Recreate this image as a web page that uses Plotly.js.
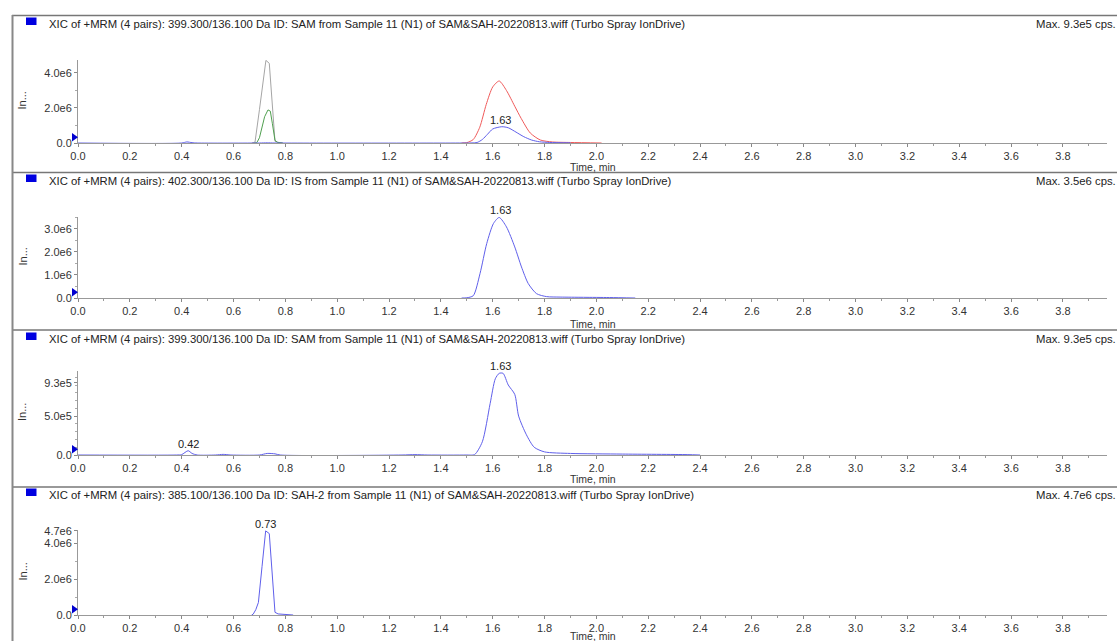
<!DOCTYPE html>
<html>
<head>
<meta charset="utf-8">
<script src="https://cdn.plot.ly/plotly-3.0.1.min.js"></script>
<style>html,body{margin:0;padding:0;background:#fff;}#chart{width:1117px;height:641px;}</style>
</head>
<body>
<div id="chart"></div>
<script>
// ---------- DATA ----------
const headers = [
  "XIC of +MRM (4 pairs): 399.300/136.100 Da ID: SAM from Sample 11 (N1) of SAM&SAH-20220813.wiff (Turbo Spray IonDrive)",
  "XIC of +MRM (4 pairs): 402.300/136.100 Da ID: IS from Sample 11 (N1) of SAM&SAH-20220813.wiff (Turbo Spray IonDrive)",
  "XIC of +MRM (4 pairs): 399.300/136.100 Da ID: SAM from Sample 11 (N1) of SAM&SAH-20220813.wiff (Turbo Spray IonDrive)",
  "XIC of +MRM (4 pairs): 385.100/136.100 Da ID: SAH-2 from Sample 11 (N1) of SAM&SAH-20220813.wiff (Turbo Spray IonDrive)"
];
const maxLabels = ["Max. 9.3e5 cps.", "Max. 3.5e6 cps.", "Max. 9.3e5 cps.", "Max. 4.7e6 cps."];
const yTitle = "In...";
const xTitle = "Time, min";

// Panel 1 (overlay of 4 channels)
const p1GrayT = [0.67, 0.683, 0.70, 0.725, 0.738, 0.76, 0.775, 0.79];
const p1GrayV = [0, 0.05e6, 1.9e6, 4.72e6, 4.55e6, 0.1e6, 0.03e6, 0];
const p1GreenT = [0.68, 0.69, 0.70, 0.71, 0.72, 0.733, 0.742, 0.75, 0.76, 0.77, 0.79];
const p1GreenV = [0, 0.02e6, 0.3e6, 0.9e6, 1.5e6, 1.89e6, 1.82e6, 1.1e6, 0.15e6, 0.03e6, 0];
const p1RedT = [1.48, 1.50, 1.525, 1.55, 1.575, 1.60, 1.625, 1.653, 1.685, 1.71, 1.745, 1.784, 1.83, 1.90, 2.02];
const p1RedV = [0, 0.02e6, 0.2e6, 0.9e6, 2.2e6, 3.2e6, 3.54e6, 3.0e6, 2.1e6, 1.4e6, 0.57e6, 0.17e6, 0.06e6, 0.03e6, 0];
const p1BlueT = [0, 0.40, 0.42, 0.44, 0.46, 0.70, 0.73, 0.76, 1.50, 1.52, 1.54, 1.56, 1.58, 1.60, 1.635, 1.66, 1.69, 1.72, 1.75, 1.78, 1.82, 1.90];
const p1BlueV = [0, 0, 0.06e6, 0.02e6, 0, 0, 0.01e6, 0, 0, 0.005e6, 0.03e6, 0.2e6, 0.5e6, 0.8e6, 0.93e6, 0.87e6, 0.62e6, 0.36e6, 0.17e6, 0.07e6, 0.03e6, 0.01e6];

// Panel 2 (IS)
const p2T = [1.48, 1.50, 1.525, 1.551, 1.577, 1.603, 1.625, 1.653, 1.685, 1.711, 1.737, 1.769, 1.808, 1.86, 1.95, 2.05, 2.15];
const p2V = [0, 0.01e6, 0.1e6, 1.06e6, 2.37e6, 3.24e6, 3.5e6, 3.09e6, 2.22e6, 1.35e6, 0.63e6, 0.19e6, 0.06e6, 0.04e6, 0.03e6, 0.02e6, 0];

// Panel 3 (SAM)
const p3T = [0, 0.38, 0.40, 0.425, 0.44, 0.46, 0.53, 0.56, 0.59, 0.70, 0.73, 0.76, 0.78, 1.25, 1.30, 1.35, 1.50, 1.53, 1.56, 1.59, 1.61, 1.625, 1.64, 1.66, 1.685, 1.70, 1.73, 1.76, 1.80, 1.90, 2.10, 2.35, 2.40];
const p3V = [0, 0, 0.005e6, 0.055e6, 0.02e6, 0, 0, 0.008e6, 0, 0, 0.02e6, 0.015e6, 0, 0, 0.005e6, 0, 0, 0.005e6, 0.17e6, 0.66e6, 0.98e6, 1.05e6, 1.05e6, 0.9e6, 0.78e6, 0.5e6, 0.26e6, 0.1e6, 0.04e6, 0.02e6, 0.012e6, 0.005e6, 0];

// Panel 4 (SAH-2)
const p4T = [0.67, 0.676, 0.686, 0.696, 0.71, 0.724, 0.738, 0.75, 0.76, 0.772, 0.79, 0.83];
const p4V = [0, 0.05e6, 0.3e6, 0.7e6, 2.7e6, 4.7e6, 4.55e6, 2.4e6, 0.15e6, 0.06e6, 0.03e6, 0];

// Peak labels (retention time, value)
const p1PeakT = [1.63];   const p1PeakV = [0.93e6];  const p1PeakText = ["1.63"];
const p2PeakT = [1.63];   const p2PeakV = [3.5e6];   const p2PeakText = ["1.63"];
const p3PeakT = [0.425, 1.63]; const p3PeakV = [0.055e6, 1.05e6]; const p3PeakText = ["0.42", "1.63"];
const p4PeakT = [0.725];  const p4PeakV = [4.7e6];   const p4PeakText = ["0.73"];

// Y tick values / labels
const p1YTicks = [0, 2e6, 4e6];          const p1YLabels = ["0.0", "2.0e6", "4.0e6"];
const p2YTicks = [0, 1e6, 2e6, 3e6];     const p2YLabels = ["0.0", "1.0e6", "2.0e6", "3.0e6"];
const p3YTicks = [0, 5e5, 9.3e5];        const p3YLabels = ["0.0", "5.0e5", "9.3e5"];
const p4YTicks = [0, 2e6, 4e6, 4.7e6];   const p4YLabels = ["0.0", "2.0e6", "4.0e6", "4.7e6"];

// ---------- LAYOUT HELPERS ----------
const W = 1117, H = 641;
const px = x => x / W;
const py = y => 1 - y / H;
const FONT = "Liberation Sans, Arial, sans-serif";
const BLUE = "rgb(95,95,235)";

// panel geometry (pixels)
const panels = [
  {top: 60,  bottom: 143, yr: [0, 4.74e6], ticks: p1YTicks, labels: p1YLabels, minor: 1e6,  header: 24,  sep: 15.5, xt: 166.5},
  {top: 217, bottom: 298, yr: [0, 3.52e6], ticks: p2YTicks, labels: p2YLabels, minor: 5e5,  header: 181, sep: 172.5, xt: 323.5},
  {top: 371, bottom: 455, yr: [0, 1.08e6], ticks: p3YTicks, labels: p3YLabels, minor: 1e5,  header: 339, sep: 330, xt: 478.5},
  {top: 530, bottom: 615, yr: [0, 4.75e6], ticks: p4YTicks, labels: p4YLabels, minor: 1e6,  header: 495, sep: 487, xt: 635.5}
];
const xL = 78, xR = 1107;

const layout = {
  width: W, height: H,
  margin: {l: 0, r: 0, t: 0, b: 0},
  paper_bgcolor: "#fff", plot_bgcolor: "rgba(0,0,0,0)",
  showlegend: false,
  font: {family: FONT, size: 11, color: "#333"},
  annotations: [], shapes: []
};

panels.forEach((p, i) => {
  const n = i === 0 ? "" : String(i + 1);
  layout["xaxis" + n] = {
    domain: [px(xL), px(xR)], range: [0, 3.97], anchor: "y" + n,
    tickmode: "linear", tick0: 0, dtick: 0.2, tickformat: ".1f",
    ticks: "outside", ticklen: 3, tickcolor: "#888", tickwidth: 1,
    showline: true, linecolor: "#999", linewidth: 1,
    showgrid: false, zeroline: false, fixedrange: true,
    tickfont: {family: FONT, size: 11, color: "#333"},
    minor: {tickmode: "linear", tick0: 0, dtick: 0.1, ticks: "outside", ticklen: 2, tickcolor: "#999", showgrid: false}
  };
  layout["yaxis" + n] = {
    domain: [py(p.bottom), py(p.top)], range: p.yr, anchor: "x" + n,
    tickmode: "array", tickvals: p.ticks, ticktext: p.labels,
    ticks: "outside", ticklen: 3, tickcolor: "#888",
    showline: true, linecolor: "#999", linewidth: 1,
    showgrid: false, zeroline: false, fixedrange: true,
    tickfont: {family: FONT, size: 11, color: "#333"},
    minor: {tickmode: "linear", tick0: 0, dtick: p.minor, ticks: "outside", ticklen: 2, tickcolor: "#aaa", showgrid: false}
  };
  // header text
  layout.annotations.push({xref: "paper", yref: "paper", x: px(47), y: py(p.header), xanchor: "left", yanchor: "middle",
    text: headers[i], showarrow: false, font: {family: FONT, size: 11.3, color: "#222"}});
  layout.annotations.push({xref: "paper", yref: "paper", x: px(1118), y: py(p.header), xanchor: "right", yanchor: "middle",
    text: maxLabels[i], showarrow: false, font: {family: FONT, size: 11.3, color: "#222"}});
  // y title
  layout.annotations.push({xref: "paper", yref: "paper", x: px(22), y: py((p.top + p.bottom) / 2 - 1), xanchor: "center", yanchor: "middle",
    text: yTitle, textangle: -90, showarrow: false, font: {family: FONT, size: 11, color: "#333"}});
  // x title
  layout.annotations.push({xref: "paper", yref: "paper", x: px(593), y: py(p.xt), xanchor: "center", yanchor: "middle",
    text: xTitle, showarrow: false, borderpad: 0, font: {family: FONT, size: 10.5, color: "#333"}});
  // separator line
  layout.shapes.push({type: "line", xref: "paper", yref: "paper", x0: px(12), x1: 1, y0: py(p.sep), y1: py(p.sep),
    line: {color: "#777", width: 1.5}});
  // blue square
  layout.shapes.push({type: "rect", xref: "paper", yref: "paper", x0: px(26), x1: px(36.5), y0: py(p.header + 1), y1: py(p.header - 6.5),
    fillcolor: "#0000e0", line: {width: 0}});
  // blue start marker (triangle) at the y axis
  layout.shapes.push({type: "path", xref: "paper", yref: "paper", xsizemode: "pixel", ysizemode: "pixel",
    xanchor: px(xL), yanchor: py(p.bottom), path: "M -6 1.5 L -6 10 L 0 5.75 Z", fillcolor: "#0000d0", line: {width: 0}});
});
// left border
layout.shapes.push({type: "line", xref: "paper", yref: "paper", x0: px(12.5), x1: px(12.5), y0: 0, y1: py(15),
  line: {color: "#888", width: 2}});

// peak labels
const peakSets = [[p1PeakT, p1PeakV, p1PeakText], [p2PeakT, p2PeakV, p2PeakText], [p3PeakT, p3PeakV, p3PeakText], [p4PeakT, p4PeakV, p4PeakText]];
peakSets.forEach((s, i) => {
  const n = i === 0 ? "" : String(i + 1);
  s[0].forEach((t, k) => {
    layout.annotations.push({xref: "x" + n, yref: "y" + n, x: t, y: s[1][k], xanchor: "center", yanchor: "bottom",
      yshift: -1, text: s[2][k], showarrow: false, font: {family: FONT, size: 11, color: "#222"}});
  });
});

// ---------- TRACES ----------
const line = (x, y, xa, ya, color, smooth) => ({
  type: "scatter", mode: "lines", x: x, y: y, xaxis: xa, yaxis: ya, hoverinfo: "skip",
  line: {color: color, width: 1, shape: smooth ? "spline" : "linear", smoothing: smooth ? 0.7 : 0}
});
const traces = [
  line(p1GrayT, p1GrayV, "x", "y", "rgb(165,165,165)", false),
  line(p1GreenT, p1GreenV, "x", "y", "rgb(80,160,80)", false),
  line(p1RedT, p1RedV, "x", "y", "rgb(240,90,90)", true),
  line(p1BlueT, p1BlueV, "x", "y", BLUE, true),
  line(p2T, p2V, "x2", "y2", BLUE, true),
  line(p3T, p3V, "x3", "y3", BLUE, true),
  line(p4T, p4V, "x4", "y4", BLUE, false)
];

Plotly.newPlot("chart", traces, layout, {staticPlot: true, displayModeBar: false});
</script>
</body>
</html>
